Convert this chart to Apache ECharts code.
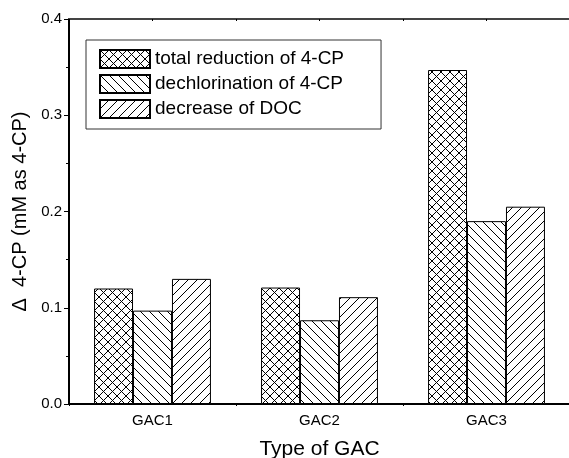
<!DOCTYPE html>
<html>
<head>
<meta charset="utf-8">
<script src="https://cdn.jsdelivr.net/npm/echarts@6/dist/echarts.min.js"></script>
<style>
  html, body { margin: 0; padding: 0; background: #fff; }
  #main { width: 569px; height: 458px; }
</style>
</head>
<body>
<div id="main"></div>
<script>
// data
const categories = ['GAC1', 'GAC2', 'GAC3'];
const seriesNames = ['total reduction of 4-CP', 'dechlorination of 4-CP', 'decrease of DOC'];
const totalReduction = [0.120, 0.121, 0.347];
const dechlorination = [0.097, 0.087, 0.190];
const decreaseDOC = [0.130, 0.111, 0.205];

// hatch fill patterns
function makePattern(kind) {
  const size = 9;
  const c = document.createElement('canvas');
  c.width = size;
  c.height = size;
  const ctx = c.getContext('2d');
  ctx.fillStyle = '#fff';
  ctx.fillRect(0, 0, size, size);
  ctx.strokeStyle = '#000';
  ctx.lineWidth = 1;
  ctx.beginPath();
  for (let k = -1; k <= 1; k++) {
    if (kind === 'back' || kind === 'cross') {
      ctx.moveTo(k * size, 0);
      ctx.lineTo(k * size + size, size);
    }
    if (kind === 'fwd' || kind === 'cross') {
      ctx.moveTo(k * size, size);
      ctx.lineTo(k * size + size, 0);
    }
  }
  ctx.stroke();
  return { image: c, repeat: 'repeat' };
}

const chart = echarts.init(document.getElementById('main'));

function barSeries(name, data, kind) {
  return {
    name: name,
    type: 'bar',
    data: data,
    barGap: '0%',
    barCategoryGap: '30%',
    itemStyle: {
      color: makePattern(kind),
      borderColor: '#000',
      borderWidth: 1
    }
  };
}

const option = {
  animation: false,
  textStyle: { fontFamily: 'Liberation Sans, Arial, sans-serif' },
  grid: { left: 69, top: 19, width: 501, bottom: 54, outerBoundsMode: 'none', containLabel: false },
  legend: {
    orient: 'vertical',
    left: 86,
    top: 40,
    padding: [9, 37, 10, 13],
    itemGap: 5,
    itemWidth: 50,
    itemHeight: 18,
    icon: 'rect',
    borderColor: '#333',
    borderWidth: 1,
    textStyle: { fontSize: 19, lineHeight: 18, color: '#000' },
    data: seriesNames
  },
  xAxis: [{
    type: 'category',
    data: categories,
    name: 'Type of GAC',
    nameLocation: 'middle',
    nameGap: 35,
    nameTextStyle: { fontSize: 21, color: '#000' },
    axisLine: { lineStyle: { color: '#000', width: 2 } },
    axisTick: { show: true, length: 2, lineStyle: { color: '#000' } },
    axisLabel: { fontSize: 15, color: '#000', margin: 9 }
  }, {
    type: 'value',
    position: 'top',
    min: 0,
    max: 3,
    interval: 0.5,
    axisLine: { show: true, lineStyle: { color: '#444', width: 2 } },
    axisTick: { show: true, inside: true, length: 2, lineStyle: { color: '#000' } },
    axisLabel: { show: false },
    splitLine: { show: false }
  }],
  yAxis: {
    type: 'value',
    min: 0,
    max: 0.4,
    interval: 0.1,
    name: '\u0394  4-CP (mM as 4-CP)',
    nameLocation: 'middle',
    nameGap: 30,
    nameTextStyle: { fontSize: 20, color: '#000' },
    axisLine: { show: true, lineStyle: { color: '#000', width: 2 } },
    axisTick: { show: true, length: 5, lineStyle: { color: '#000' } },
    minorTick: { show: true, splitNumber: 2, length: 3, lineStyle: { color: '#000' } },
    axisLabel: {
      fontSize: 15,
      color: '#000',
      margin: 7,
      formatter: v => v.toFixed(1)
    },
    splitLine: { show: false }
  },
  series: [
    barSeries(seriesNames[0], totalReduction, 'cross'),
    barSeries(seriesNames[1], dechlorination, 'back'),
    barSeries(seriesNames[2], decreaseDOC, 'fwd')
  ]
};

chart.setOption(option);
</script>
</body>
</html>
